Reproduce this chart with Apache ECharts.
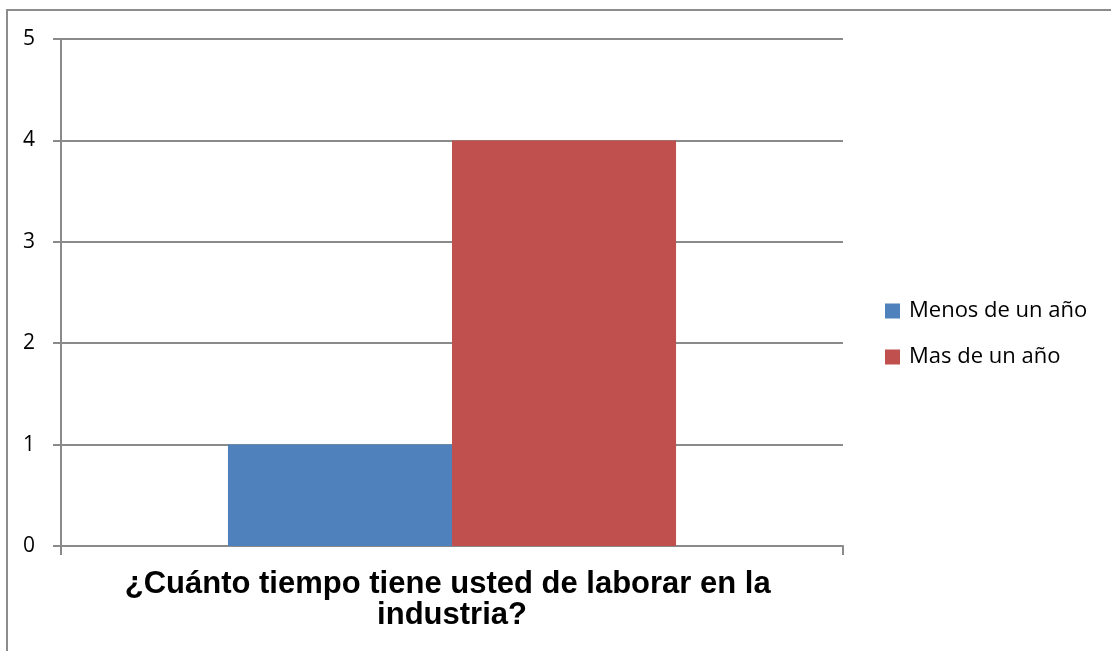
<!DOCTYPE html>
<html>
<head>
<meta charset="utf-8">
<script src="https://cdn.jsdelivr.net/npm/echarts@6/dist/echarts.min.js"></script>
<style>
  html, body { margin: 0; padding: 0; background: #ffffff; }
  #chart { width: 1111px; height: 651px; }
</style>
</head>
<body>
<div id="chart"></div>
<script>
// Survey answer: how long the respondent has worked in the industry
const categories = ['¿Cuánto tiempo tiene usted de laborar en la industria?'];
const seriesNames = ['Menos de un año', 'Mas de un año'];
const menosDeUnAno = [1];
const masDeUnAno = [4];
const yTicks = [0, 1, 2, 3, 4, 5];

const axisGray = '#8a8a8a';

const chart = echarts.init(document.getElementById('chart'), null, { renderer: 'canvas' });

chart.setOption({
  backgroundColor: '#ffffff',
  animation: false,
  graphic: [{
    type: 'rect',
    shape: { x: 7, y: 10, width: 1200, height: 700 },
    style: { fill: 'none', stroke: '#8c8c8c', lineWidth: 2 },
    silent: true
  }],
  grid: { left: 61, right: 268, top: 39, bottom: 105 },
  legend: {
    orient: 'vertical',
    left: 885,
    top: 300,
    padding: 0,
    icon: 'rect',
    itemWidth: 15,
    itemHeight: 15,
    itemGap: 24,
    data: seriesNames,
    textStyle: { fontFamily: 'Open Sans', fontSize: 22, color: '#000000', lineHeight: 22, padding: [0, 0, 0, 4] }
  },
  xAxis: {
    type: 'category',
    data: categories,
    axisLine: { show: true, lineStyle: { color: axisGray, width: 2 } },
    axisTick: { show: true, length: 9, lineStyle: { color: axisGray, width: 2 } },
    axisLabel: {
      margin: 23,
      width: 700,
      overflow: 'break',
      fontFamily: 'Liberation Sans',
      fontWeight: 'bold',
      fontSize: 31,
      lineHeight: 31,
      color: '#000000',
      align: 'center'
    }
  },
  yAxis: {
    type: 'value',
    min: yTicks[0],
    max: yTicks[yTicks.length - 1],
    interval: 1,
    axisLine: { show: true, lineStyle: { color: axisGray, width: 2 } },
    axisTick: { show: true, length: 8, lineStyle: { color: axisGray, width: 2 } },
    splitLine: { show: true, lineStyle: { color: axisGray, width: 2 } },
    axisLabel: {
      margin: 26,
      fontFamily: 'Open Sans',
      fontSize: 21,
      color: '#000000'
    }
  },
  series: [
    {
      name: seriesNames[0],
      type: 'bar',
      data: menosDeUnAno,
      barGap: '0%',
      barCategoryGap: '42.7%',
      itemStyle: { color: '#4F81BD' }
    },
    {
      name: seriesNames[1],
      type: 'bar',
      data: masDeUnAno,
      barGap: '0%',
      barCategoryGap: '42.7%',
      itemStyle: { color: '#C0504D' }
    }
  ]
});
</script>
</body>
</html>
